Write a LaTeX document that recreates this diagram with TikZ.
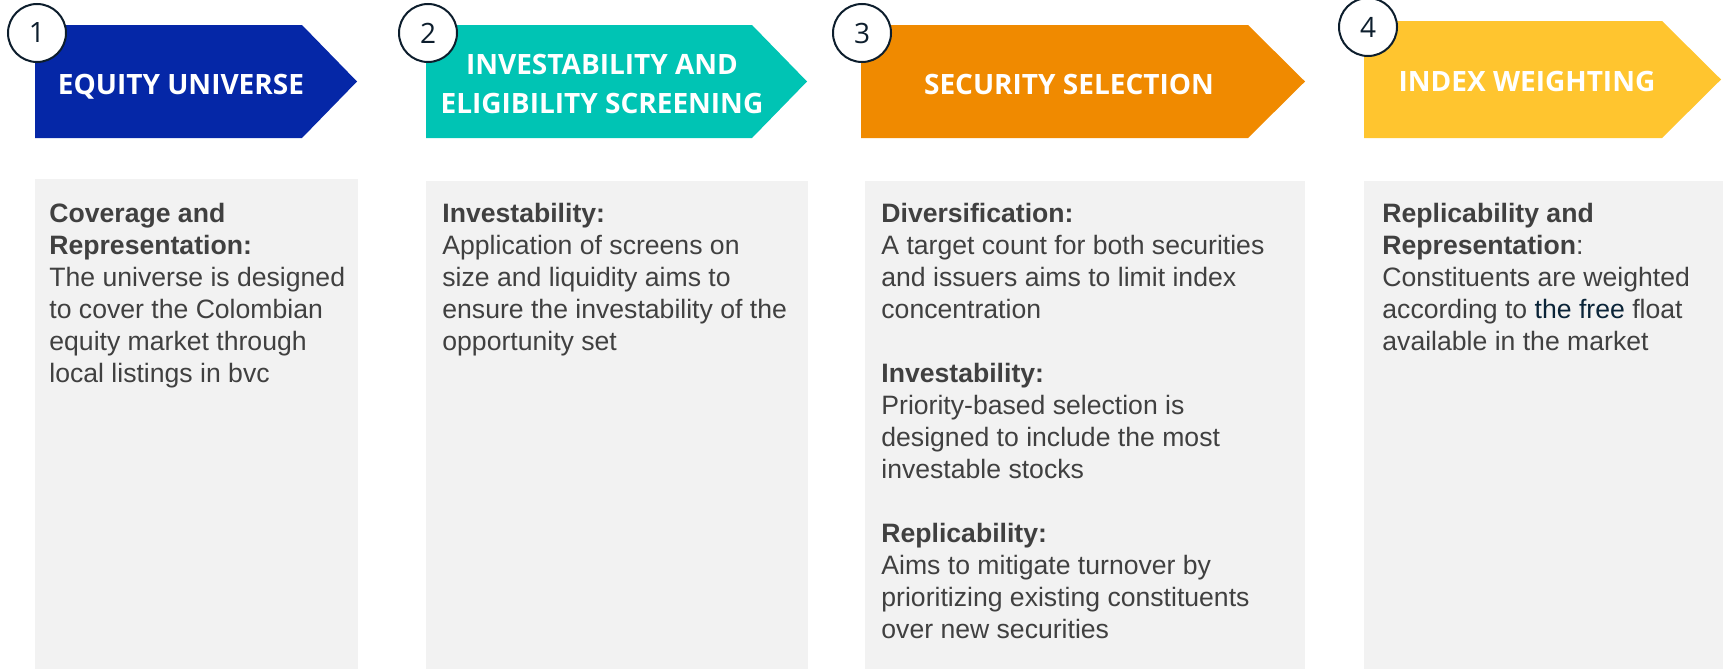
\documentclass[tikz,border=0pt]{standalone}
\usepackage{fontspec}
\setmainfont{Liberation Sans}
\newfontfamily\headfont{Open Sans}
\definecolor{eqblue}{RGB}{5,39,167}
\definecolor{invteal}{RGB}{0,196,180}
\definecolor{secorange}{RGB}{240,138,0}
\definecolor{idxyellow}{RGB}{255,197,47}
\definecolor{bg}{RGB}{242,242,242}
\definecolor{txt}{RGB}{64,64,64}
\definecolor{navy}{RGB}{13,30,45}
\definecolor{freecol}{RGB}{10,36,56}

\begin{document}
\begin{tikzpicture}[x=0.5pt,y=-0.5pt,
  num/.style={circle,draw=navy,line width=1pt,fill=white,minimum size=29pt,inner sep=0pt,text=navy,font=\headfont\fontsize{14}{16}\selectfont},
  head/.style={anchor=base,text=white,align=center,inner sep=0pt,font=\headfont\bfseries\fontsize{14}{19.5}\selectfont},
  body/.style={anchor=base west,align=left,inner sep=0pt,text=txt,font=\fontsize{13.3}{16}\selectfont}]
\useasboundingbox (0,0) rectangle (1723,669);
% grey panels
\fill [bg] (35,179) rectangle (358,669);
\fill [bg] (426,181) rectangle (808,669);
\fill [bg] (865,181) rectangle (1305,669);
\fill [bg] (1364,181) rectangle (1723,669);
% step arrows
\fill [eqblue] (35,25) -- (302,25) -- (357,81.5) -- (302,138) -- (35,138) -- cycle;
\fill [invteal] (426,25) -- (752,25) -- (807,81.5) -- (752,138) -- (426,138) -- cycle;
\fill [secorange] (861,25) -- (1248,25) -- (1305,81.5) -- (1248,138) -- (861,138) -- cycle;
\fill [idxyellow] (1364,21) -- (1662,21) -- (1721,79.5) -- (1662,138) -- (1364,138) -- cycle;
% titles (anchored at the last baseline)
\node [head] (h1) at (181,94) {EQUITY UNIVERSE};
\node [head] (h2) at (602,113) {INVESTABILITY AND\\ELIGIBILITY SCREENING};
\node [head] (h3) at (1069,94) {SECURITY SELECTION};
\node [head] (h4) at (1527,91) {INDEX WEIGHTING};
% numbers
\node [num] (n1) at (37,33) {1};
\node [num] (n2) at (428,33) {2};
\node [num] (n3) at (862,33) {3};
\node [num] (n4) at (1368,27) {4};
% panel texts (anchored at the last baseline)
\node [body] (t1) at (49,382) {\textbf{Coverage and}\\\textbf{Representation:}\\The universe is designed\\to cover the Colombian\\equity market through\\local listings in bvc};
\node [body] (t2) at (442,350) {\textbf{Investability:}\\Application of screens on\\size and liquidity aims to\\ensure the investability of the\\opportunity set};
\node [body] (t3) at (881,638) {\textbf{Diversification:}\\A target count for both securities\\and issuers aims to limit index\\concentration\\[16pt]\textbf{Investability:}\\Priority-based selection is\\designed to include the most\\investable stocks\\[16pt]\textbf{Replicability:}\\Aims to mitigate turnover by\\prioritizing existing constituents\\over new securities};
\node [body] (t4) at (1382,350) {\textbf{Replicability and}\\\textbf{Representation}:\\Constituents are weighted\\according to \textcolor{freecol}{the free} float\\available in the market};
\end{tikzpicture}
\end{document}
